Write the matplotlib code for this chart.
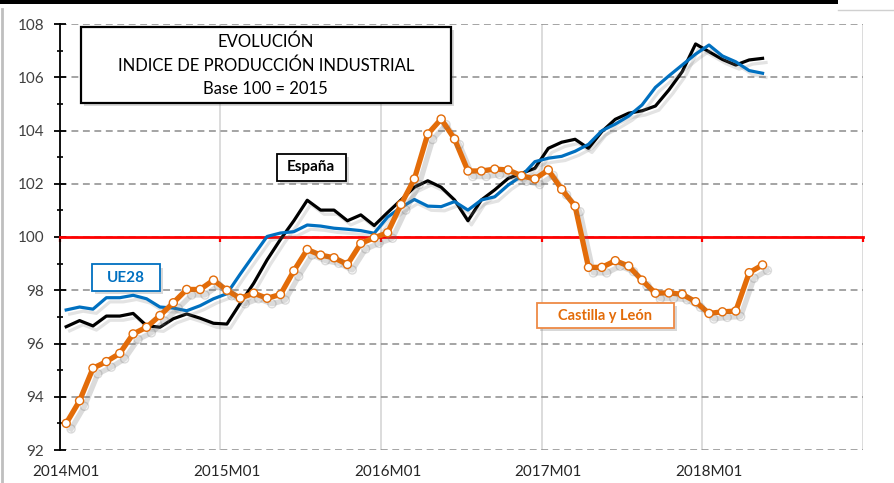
import matplotlib
matplotlib.use("Agg")
import matplotlib.pyplot as plt
import matplotlib.patheffects as pe
from matplotlib.patches import Rectangle
from matplotlib.lines import Line2D
import numpy as np

plt.rcParams['font.family'] = ['Lato', 'DejaVu Sans']

# months 2014M01 .. 2018M05
months = ["%dM%02d" % (2014 + k // 12, k % 12 + 1) for k in range(53)]
tick_labels = ["2014M01", "2015M01", "2016M01", "2017M01", "2018M01"]

espana = [96.63, 96.86, 96.66, 97.03, 97.03, 97.13, 96.67, 96.61, 96.93, 97.11, 96.95, 96.76, 96.73,
          97.51, 98.26, 99.14, 99.91, 100.61, 101.38, 101.01, 101.01, 100.61, 100.83, 100.43, 100.92,
          101.39, 101.87, 102.11, 101.87, 101.39, 100.61, 101.39, 101.77, 102.20, 102.39, 102.58, 103.33,
          103.56, 103.67, 103.33, 103.96, 104.42, 104.65, 104.74, 104.92, 105.52, 106.21, 107.25, 106.96,
          106.67, 106.46, 106.65, 106.71]

ue28 = [97.26, 97.37, 97.29, 97.72, 97.72, 97.81, 97.68, 97.37, 97.33, 97.23, 97.42, 97.68, 97.87,
        98.61, 99.32, 100.02, 100.15, 100.20, 100.45, 100.41, 100.33, 100.29, 100.24, 100.14, 100.75,
        101.11, 101.41, 101.16, 101.14, 101.33, 101.01, 101.39, 101.51, 101.95, 102.29, 102.83, 102.96,
        103.03, 103.22, 103.48, 103.99, 104.24, 104.54, 104.96, 105.62, 106.05, 106.46, 106.87, 107.21,
        106.80, 106.58, 106.25, 106.15]

castilla = [93.00, 93.85, 95.07, 95.32, 95.63, 96.36, 96.61, 97.05, 97.53, 98.03, 98.03, 98.38, 98.00,
            97.70, 97.89, 97.70, 97.84, 98.73, 99.53, 99.32, 99.22, 98.97, 99.76, 99.97, 100.16,
            101.22, 102.18, 103.87, 104.43, 103.68, 102.48, 102.48, 102.55, 102.52, 102.30, 102.18, 102.52,
            101.79, 101.16, 98.86, 98.86, 99.11, 98.91, 98.38, 97.89, 97.90, 97.85, 97.57, 97.13,
            97.19, 97.22, 98.66, 98.95]

BLUE = "#0070C0"
ORANGE = "#E36C09"

fig = plt.figure(figsize=(8.94, 4.83), dpi=100)
ax = fig.add_axes([59.5 / 894, 33 / 483, (863 - 59.5) / 894, (450 - 24) / 483])

x = np.arange(len(months))
ax.set_xlim(-0.5, 59.5)
ax.set_ylim(92, 108)

# grid
ax.set_yticks(np.arange(92, 109, 2))
ax.set_yticks(np.arange(93, 108, 2), minor=True)
ax.yaxis.grid(True, which='major', color='#8c8c8c', lw=1.1, ls=(0, (4.5, 3)))
ax.set_xticks(np.arange(-0.5, 60, 12))
ax.xaxis.grid(True, color='#d9d9d9', lw=1.3, ls='-')
ax.set_axisbelow(True)

for s in ['top', 'right']:
    ax.spines[s].set_visible(False)
ax.spines['left'].set_color('black')
ax.spines['left'].set_linewidth(1.3)
ax.spines['bottom'].set_position(('data', 100))
ax.spines['bottom'].set_color('#FF0000')
ax.spines['bottom'].set_linewidth(2.0)
ax.spines['bottom'].set_zorder(2.6)

ax.tick_params(axis='x', colors='#FF0000', length=3.5, width=1.6, direction='out', labelbottom=False)
ax.tick_params(axis='y', which='major', direction='inout', length=8, width=1.3, color='black',
               labelcolor='#404040', labelsize=11, pad=7)
ax.tick_params(axis='y', which='minor', direction='inout', length=5, width=1.2, color='black')

sec = ax.secondary_xaxis(0.0)
sec.set_xticks([0, 12, 24, 36, 48], labels=tick_labels)
sec.tick_params(length=0, pad=11, labelsize=11, labelcolor='#262626')
sec.spines['bottom'].set_visible(False)

shadow = [pe.SimpleLineShadow(offset=(2.5, -3), shadow_color='#808080', alpha=0.22), pe.Normal()]

ax.plot(x, espana, color='black', lw=2.3, zorder=4, path_effects=shadow)
ax.plot(x, ue28, color=BLUE, lw=2.3, zorder=5, path_effects=shadow)
ax.plot(x, castilla, color=ORANGE, lw=3.8, marker='o', markersize=5.8, markerfacecolor='white',
        markeredgecolor=ORANGE, markeredgewidth=1.0, zorder=6,
        path_effects=[pe.SimpleLineShadow(offset=(3.5, -4), shadow_color='#707070', alpha=0.25),
                      pe.Normal()])


def label_box(x0, x1, y0, y1, text, tcolor, ecolor, size, weight, lw=1.3, ls=1.2):
    ax.add_patch(Rectangle((x0 + 0.25, y0 - 0.12), x1 - x0, y1 - y0, fc='#808080', ec='none',
                           alpha=0.3, zorder=8))
    ax.add_patch(Rectangle((x0, y0), x1 - x0, y1 - y0, fc='white', ec=ecolor, lw=lw, zorder=9))
    ax.text((x0 + x1) / 2, (y0 + y1) / 2, text, color=tcolor, fontsize=size, fontweight=weight,
            ha='center', va='center', zorder=10, linespacing=ls)


label_box(1.10, 28.72, 105.03, 107.89,
          "EVOLUCIÓN\nINDICE DE PRODUCCIÓN INDUSTRIAL\nBase 100 = 2015",
          'black', 'black', 12, 'normal', lw=1.6, ls=1.55)
label_box(15.71, 20.88, 102.11, 103.12, "España", 'black', 'black', 11, 'bold')
label_box(1.90, 7.00, 97.98, 98.97, "UE28", BLUE, BLUE, 11, 'bold')
label_box(35.16, 45.36, 96.59, 97.51, "Castilla y León", ORANGE, '#EE8A45', 10.5, 'bold')

# screenshot frame bits
fig.patches.append(Rectangle((0, 1 - 4 / 483), 838 / 894, 4 / 483, transform=fig.transFigure,
                             fc='black', ec='none'))
fig.lines.append(Line2D([1.5 / 894, 1.5 / 894], [0, 1 - 9 / 483], transform=fig.transFigure,
                        color='#bfbfbf', lw=2))
fig.lines.append(Line2D([838 / 894, 1], [1 - 10 / 483, 1 - 10 / 483], transform=fig.transFigure,
                        color='#d0d0d0', lw=1))

fig.savefig("out.png", dpi=100)
